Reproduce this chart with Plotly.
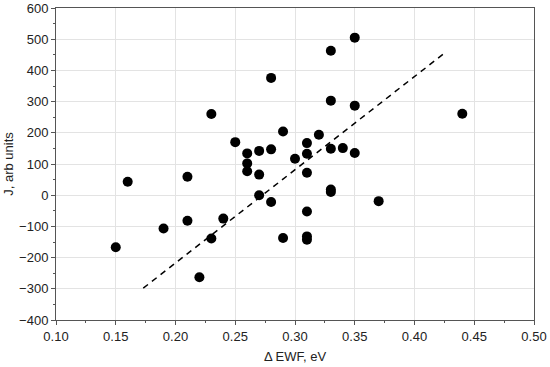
import plotly.graph_objects as go

ewf = [0.15, 0.16, 0.19, 0.21, 0.21, 0.22, 0.23, 0.23, 0.24, 0.25,
       0.26, 0.26, 0.26, 0.27, 0.27, 0.27, 0.28, 0.28, 0.28, 0.29,
       0.29, 0.30, 0.31, 0.31, 0.31, 0.31, 0.31, 0.31, 0.32, 0.33,
       0.33, 0.33, 0.33, 0.33, 0.34, 0.35, 0.35, 0.35, 0.37, 0.44]
j_vals = [-167, 43, -107, 59, -82, -263, 260, -139, -75, 170,
          134, 102, 77, 142, 66, 0, 376, 147, -22, 204,
          -137, 117, 167, 133, 72, -52, -132, -143, 194, 463,
          303, 149, 18, 10, 151, 505, 287, 135, -19, 261]

fit_x = [0.173, 0.425]
fit_y = [-298, 455]

x_range = [0.10, 0.50]
y_range = [-400, 600]

fig = go.Figure()
fig.add_trace(go.Scatter(x=ewf, y=j_vals, mode="markers",
                         marker=dict(color="black", size=10),
                         showlegend=False))
fig.add_trace(go.Scatter(x=fit_x, y=fit_y, mode="lines",
                         line=dict(color="black", width=1.5, dash="6px,5px"),
                         showlegend=False))

font = dict(family="Liberation Sans, Arial, sans-serif", size=13, color="#222")
axis_common = dict(showgrid=True, gridcolor="#e3e3e3", gridwidth=1,
                   showline=True, linecolor="#555", linewidth=1, mirror=True,
                   ticks="outside", ticklen=4, tickcolor="#555",
                   zeroline=False, tickfont=font, automargin=False)

fig.update_xaxes(range=x_range, tickmode="linear", tick0=0.10, dtick=0.05,
                 tickformat=".2f",
                 title=dict(text="Δ EWF, eV", font=font, standoff=9),
                 minor=dict(ticks="outside", ticklen=2, dtick=0.025, tickcolor="#555", showgrid=False),
                 **axis_common)
fig.update_yaxes(range=y_range, tickmode="linear", tick0=0, dtick=100,
                 title=dict(text="J, arb units", font=font, standoff=2),
                 minor=dict(ticks="outside", ticklen=2, dtick=50, tickcolor="#555", showgrid=False),
                 **axis_common)

fig.update_layout(width=550, height=367,
                  margin=dict(l=56, r=16, t=8, b=47),
                  plot_bgcolor="white", paper_bgcolor="white",
                  font=font)

fig.write_html("out.html", config={"displayModeBar": False},
               post_script="document.body.style.margin='0';document.body.style.overflow='hidden';")
